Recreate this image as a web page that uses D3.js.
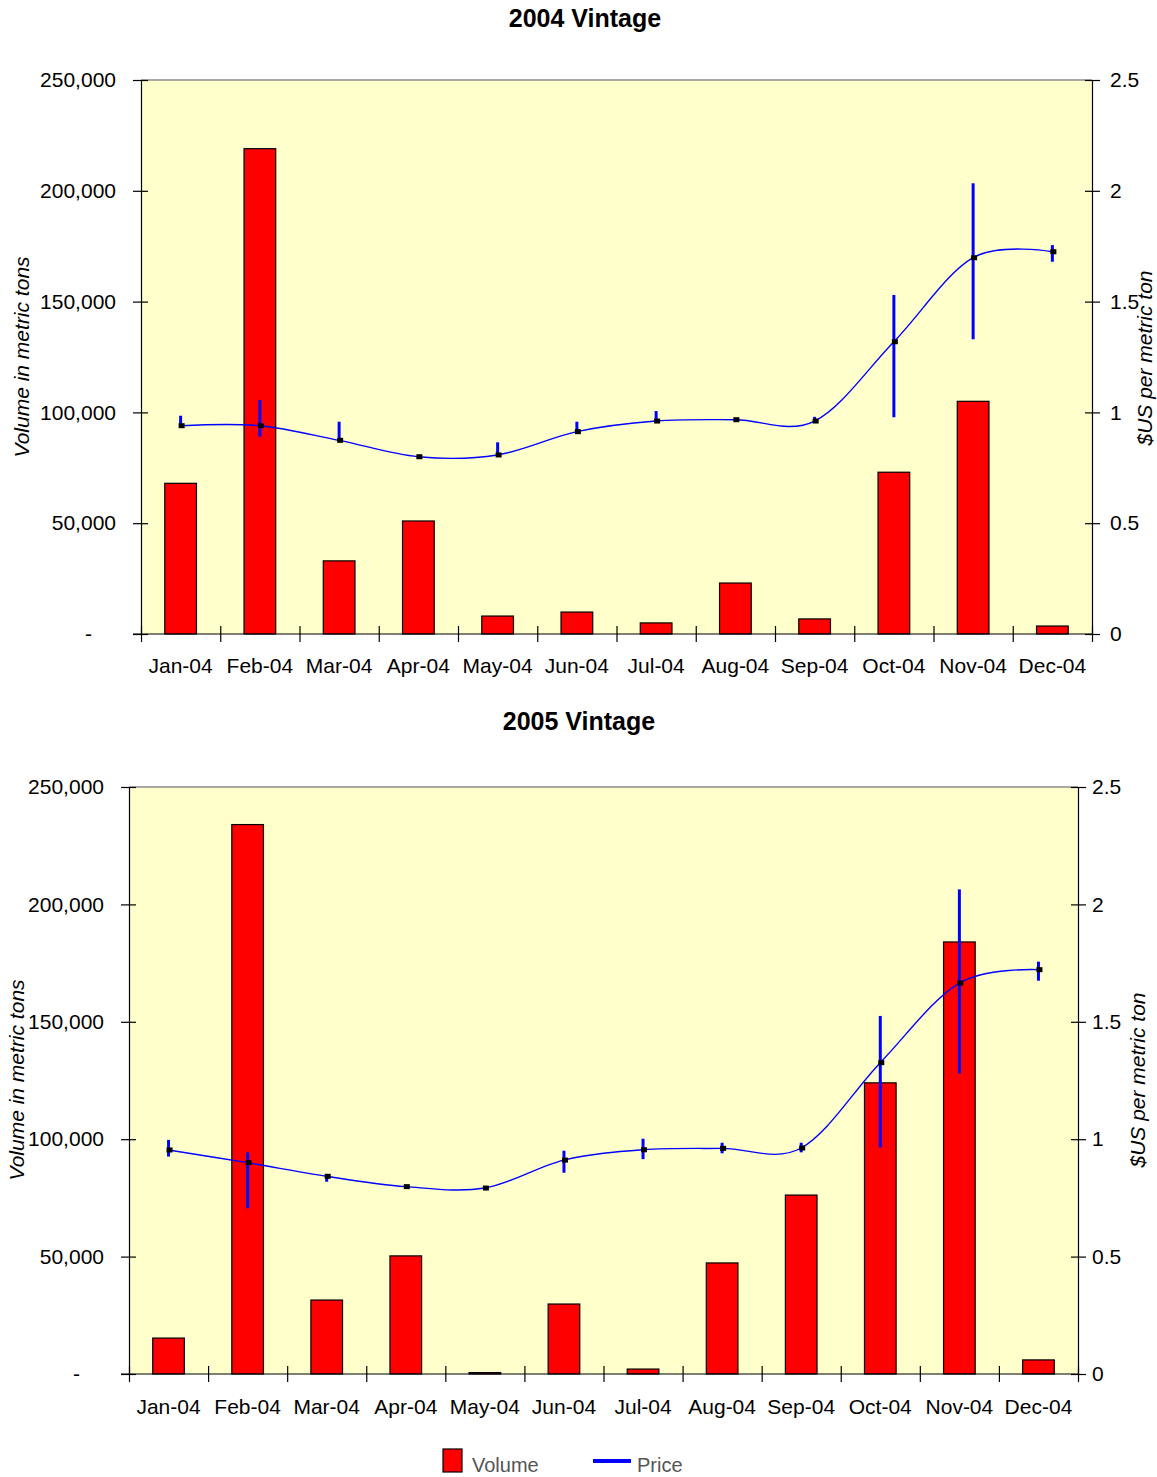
<!DOCTYPE html>
<html>
<head>
<meta charset="utf-8">
<script src="https://cdn.jsdelivr.net/npm/d3@7"></script>
<style>
  body { margin: 0; background: #fff; }
  svg { display: block; font-family: "Liberation Sans", Arial, sans-serif; }
</style>
</head>
<body>
<div id="chart"></div>
<script>
// data
var months = ["Jan-04", "Feb-04", "Mar-04", "Apr-04", "May-04", "Jun-04",
              "Jul-04", "Aug-04", "Sep-04", "Oct-04", "Nov-04", "Dec-04"];

var volume2004 = [68000, 219000, 33000, 51000, 8100, 9900, 5000, 23000, 6800, 73000, 105000, 3600];
var price2004 = [0.94, 0.94, 0.874, 0.80, 0.808, 0.913, 0.961, 0.967, 0.961, 1.319, 1.698, 1.725];
var priceHigh2004 = [0.985, 1.056, 0.958, 0.80, 0.865, 0.958, 1.006, 0.967, 0.98, 1.53, 2.034, 1.755];
var priceLow2004 = [0.94, 0.89, 0.874, 0.80, 0.808, 0.913, 0.961, 0.967, 0.961, 0.978, 1.33, 1.68];

var volume2005 = [15300, 234000, 31500, 50300, 600, 29800, 2100, 47300, 76200, 124000, 184000, 6000];
var price2005 = [0.954, 0.90, 0.842, 0.798, 0.792, 0.911, 0.955, 0.961, 0.9625, 1.326, 1.665, 1.722];
var priceHigh2005 = [0.997, 0.944, 0.852, 0.798, 0.792, 0.951, 1.002, 0.985, 0.985, 1.525, 2.064, 1.756];
var priceLow2005 = [0.926, 0.706, 0.819, 0.798, 0.792, 0.857, 0.915, 0.94, 0.944, 0.965, 1.28, 1.675];

var volumeTicks = [0, 50000, 100000, 150000, 200000, 250000];
var priceTicks = [0, 0.5, 1, 1.5, 2, 2.5];

var legendItems = [
    { label: "Volume", type: "bar" },
    { label: "Price", type: "line" }
];

var svg = d3.select("#chart")
    .append("svg")
    .attr("width", 1157)
    .attr("height", 1477);

var fmtVol = d3.format(",");

function drawPanel(p) {
    var g = svg.append("g").attr("transform", "translate(" + p.left + "," + p.top + ")");

    var x = d3.scaleBand().domain(months).range([0, p.width]).padding(0);
    var xEdge = d3.scaleLinear().domain([0, months.length]).range([0, p.width]);
    var yVol = d3.scaleLinear().domain([0, 250000]).range([p.height, 0]);
    var yPrice = d3.scaleLinear().domain([0, 2.5]).range([p.height, 0]);

    // plot background
    g.append("rect")
        .attr("width", p.width)
        .attr("height", p.height)
        .attr("fill", "#ffffcc");
    g.append("line")
        .attr("x1", 0).attr("x2", p.width)
        .attr("y1", 0).attr("y2", 0)
        .attr("stroke", "#8c8c8c")
        .attr("stroke-width", 1.5);

    // bars
    var bw = x.bandwidth() * 0.4;
    g.selectAll(".bar")
        .data(p.volume)
        .enter()
        .append("rect")
        .attr("class", "bar")
        .attr("x", function(d, i) { return x(months[i]) + (x.bandwidth() - bw) / 2; })
        .attr("y", function(d) { return yVol(d); })
        .attr("width", bw)
        .attr("height", function(d) { return yVol(0) - yVol(d); })
        .attr("fill", "#ff0000")
        .attr("stroke", "#000")
        .attr("stroke-width", 1.2);

    // price line (smoothed like the spreadsheet)
    var line = d3.line()
        .x(function(d, i) { return x(months[i]) + x.bandwidth() / 2; })
        .y(function(d) { return yPrice(d); })
        .curve(d3.curveCardinal.tension(0));
    g.append("path")
        .datum(p.price)
        .attr("d", line)
        .attr("fill", "none")
        .attr("stroke", "#0000ff")
        .attr("stroke-width", 1.4);

    // high-low bars
    g.selectAll(".err")
        .data(p.price)
        .enter()
        .append("line")
        .attr("class", "err")
        .attr("x1", function(d, i) { return x(months[i]) + x.bandwidth() / 2; })
        .attr("x2", function(d, i) { return x(months[i]) + x.bandwidth() / 2; })
        .attr("y1", function(d, i) { return yPrice(p.high[i]); })
        .attr("y2", function(d, i) { return yPrice(p.low[i]); })
        .attr("stroke", "#0000ff")
        .attr("stroke-width", 3);

    // point markers
    g.selectAll(".mark")
        .data(p.price)
        .enter()
        .append("rect")
        .attr("class", "mark")
        .attr("x", function(d, i) { return x(months[i]) + x.bandwidth() / 2 - 2; })
        .attr("y", function(d) { return yPrice(d) - 2.5; })
        .attr("width", 6)
        .attr("height", 5)
        .attr("fill", "#000");

    // left axis
    var left = g.append("g")
        .call(d3.axisLeft(yVol).tickValues(volumeTicks).tickSize(8).tickPadding(17)
            .tickFormat(function(d) { return d === 0 ? "-" : fmtVol(d); }));
    left.selectAll(".tick line").attr("x2", -8).attr("x1", 7);
    left.selectAll(".tick text").filter(function(d) { return d === 0; }).attr("dx", -24);

    // right axis
    var right = g.append("g")
        .attr("transform", "translate(" + p.width + ",0)")
        .call(d3.axisRight(yPrice).tickValues(priceTicks).tickSize(8).tickPadding(p.rightPad)
            .tickFormat(d3.format("")));
    right.selectAll(".tick line").attr("x2", 8).attr("x1", -7);

    // bottom axis: ticks on month boundaries, labels centred in each month
    var bottomTicks = g.append("g")
        .attr("transform", "translate(0," + p.height + ")")
        .call(d3.axisBottom(xEdge).tickValues(d3.range(months.length + 1)).tickSize(8).tickFormat(""));
    bottomTicks.selectAll(".tick line").attr("y1", -8);
    var bottom = g.append("g")
        .attr("transform", "translate(0," + p.height + ")")
        .call(d3.axisBottom(x).tickSize(0).tickPadding(p.xPad));
    bottom.select(".domain").remove();
    bottomTicks.select(".domain").attr("d", "M-8,0H" + p.width);

    [left, right, bottom, bottomTicks].forEach(function(a) {
        a.selectAll("text")
            .attr("fill", "#000")
            .style("font-size", "21px")
            .style("font-family", "'Liberation Sans', Arial, sans-serif");
        a.selectAll("line").attr("stroke", "#000").attr("stroke-width", 1.2);
        a.selectAll(".domain").attr("stroke", "#000").attr("stroke-width", 1.2);
    });

    // title
    svg.append("text")
        .attr("x", p.titleX)
        .attr("y", p.titleY)
        .attr("text-anchor", "middle")
        .style("font-size", "25px")
        .style("font-weight", "bold")
        .text(p.title);

    // axis titles
    svg.append("text")
        .attr("transform", "translate(" + p.leftLabel[0] + "," + p.leftLabel[1] + ") rotate(-90)")
        .attr("text-anchor", "middle")
        .attr("dy", "0.35em")
        .style("font-size", "21px")
        .style("font-style", "italic")
        .text("Volume in metric tons");
    svg.append("text")
        .attr("transform", "translate(" + p.rightLabel[0] + "," + p.rightLabel[1] + ") rotate(-90)")
        .attr("text-anchor", "middle")
        .attr("dy", "0.35em")
        .style("font-size", "21px")
        .style("font-style", "italic")
        .text("$US per metric ton");
}

drawPanel({
    title: "2004 Vintage", titleX: 585, titleY: 27,
    left: 141, top: 80, width: 951, height: 554,
    volume: volume2004, price: price2004, high: priceHigh2004, low: priceLow2004,
    rightPad: 10, xPad: 24,
    leftLabel: [22, 357], rightLabel: [1145, 358]
});

drawPanel({
    title: "2005 Vintage", titleX: 579, titleY: 730,
    left: 129, top: 787, width: 949, height: 587,
    volume: volume2005, price: price2005, high: priceHigh2005, low: priceLow2005,
    rightPad: 6, xPad: 25,
    leftLabel: [17, 1080], rightLabel: [1138, 1080]
});

// legend
var legend = svg.append("g").attr("transform", "translate(443,1449)");
var items = legend.selectAll("g")
    .data(legendItems)
    .enter()
    .append("g")
    .attr("transform", function(d, i) { return "translate(" + (i * 150) + ",0)"; });
items.filter(function(d) { return d.type === "bar"; })
    .append("rect")
    .attr("width", 19)
    .attr("height", 23)
    .attr("fill", "#ff0000")
    .attr("stroke", "#000")
    .attr("stroke-width", 1.2);
items.filter(function(d) { return d.type === "line"; })
    .append("line")
    .attr("x1", 0).attr("x2", 38)
    .attr("y1", 12).attr("y2", 12)
    .attr("stroke", "#0000ff")
    .attr("stroke-width", 4);
items.append("text")
    .attr("x", function(d) { return d.type === "bar" ? 29 : 44; })
    .attr("y", 23)
    .attr("fill", "#555")
    .style("font-size", "20px")
    .text(function(d) { return d.label; });
</script>
</body>
</html>
